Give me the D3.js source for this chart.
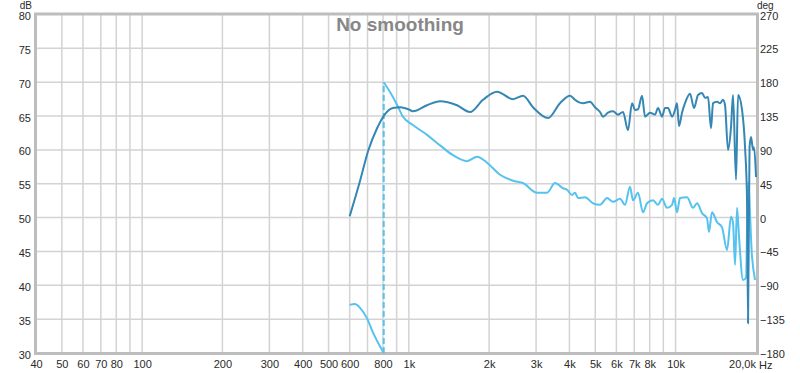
<!DOCTYPE html>
<html>
<head>
<meta charset="utf-8">
<script src="https://cdn.jsdelivr.net/npm/d3@7"></script>
<style>
html,body{margin:0;padding:0;background:#fff;}
svg{display:block;font-family:"Liberation Sans",Arial,sans-serif;}
</style>
</head>
<body>
<svg id="chart" width="800" height="373"></svg>
<script>
// ---- data ----
const titleText = "No smoothing";
const magFreq = [600, 656, 703, 760, 814, 872, 927, 1010, 1036, 1170, 1309, 1516, 1696, 1897, 2141, 2458, 2680, 2921, 3325, 3688, 4021, 4198, 4309, 4498, 4778, 4989, 5210, 5346, 5581, 5827, 6085, 6353, 6633, 6867, 7047, 7232, 7486, 7683, 8022, 8375, 8595, 8898, 9131, 9371, 9701, 9954, 10127, 10303, 10573, 10851, 11330, 11728, 12140, 12566, 12896, 13234, 13582, 13818, 14305, 14680, 15065, 15327, 15730, 16143, 16425, 16856, 17149, 17752, 18218, 18535, 18696, 18940, 19190, 19521, 19690, 20030];
const magDb = [50.2, 55.4, 59.8, 63.2, 65.3, 66.2, 66.3, 65.9, 65.7, 66.6, 67.2, 66.6, 65.6, 67.4, 68.6, 67.5, 68.0, 66.3, 64.7, 66.9, 68.0, 67.4, 67.1, 66.9, 67.1, 66.3, 65.6, 64.9, 65.5, 65.7, 65.2, 65.6, 62.9, 66.9, 65.9, 66.0, 68.0, 64.9, 65.5, 65.2, 66.2, 64.9, 66.2, 66.2, 64.9, 65.9, 66.9, 63.5, 65.5, 66.9, 68.3, 66.2, 68.1, 68.4, 67.7, 67.8, 63.2, 66.9, 67.1, 66.9, 67.4, 66.6, 60.0, 63.4, 68.1, 55.6, 68.1, 65.9, 60.4, 52.6, 34.4, 60.4, 61.9, 60.0, 60.4, 56.0];
const phaseFreq = [600, 628, 656, 697, 734, 805, 805, 850, 903, 951, 1036, 1170, 1309, 1464, 1652, 1802, 1964, 2197, 2458, 2680, 3024, 3297, 3533, 3786, 3919, 4091, 4198, 4309, 4577, 4904, 5210, 5535, 5827, 6191, 6463, 6749, 6926, 7232, 7551, 7816, 8233, 8595, 8898, 9290, 9701, 9870, 10127, 10393, 11043, 11630, 12038, 12566, 13120, 13348, 13697, 14305, 14936, 15595, 16143, 16425, 16711, 17002, 17299, 17906, 18376, 18696, 19352, 19861];
const phaseDeg = [-116, -115, -120, -134, -153, -180, 180, 167, 150, 134, 123, 110, 96, 83, 75, 81, 73, 57, 49, 46, 33, 33, 46, 39, 37, 30, 33, 26, 27, 19, 17, 26, 21, 25, 17, 41, 23, 33, 7, 19, 23, 17, 25, 13, 17, 26, 7, 26, 27, 13, 19, 6, -1, -19, 7, -6, -13, -43, 1, -7, -63, 13, -26, -83, -80, 47, -52, -83];
const xTickValues = [40, 50, 60, 70, 80, 100, 200, 300, 400, 500, 600, 800, 1000, 2000, 3000, 4000, 5000, 6000, 7000, 8000, 10000];
const xTickLabels = ["40", "50", "60", "70", "80", "100", "200", "300", "400", "500", "600", "800", "1k", "2k", "3k", "4k", "5k", "6k", "7k", "8k", "10k"];
const xGridValues = [50, 60, 70, 80, 90, 100, 200, 300, 400, 500, 600, 700, 800, 900, 1000, 2000, 3000, 4000, 5000, 6000, 7000, 8000, 9000, 10000];
const xEndLabel = "20,0k";
const xUnit = "Hz";
const dbTicks = [30, 35, 40, 45, 50, 55, 60, 65, 70, 75, 80];
const degTicks = [-180, -135, -90, -45, 0, 45, 90, 135, 180, 225, 270];
const leftUnit = "dB";
const rightUnit = "deg";

// ---- layout ----
const L = 36, R = 757, T = 14.5, B = 353;
const svg = d3.select("#chart");
const x = d3.scaleLog().domain([40, 20200]).range([L, R]);
const yDb = d3.scaleLinear().domain([30, 80]).range([B, T]);
const yDeg = d3.scaleLinear().domain([-180, 270]).range([B, T]);

const gridColor = "#d3d3d3";
const darkBlue = "#3487b4";
const lightBlue = "#55c2ef";

// grid
svg.append("g").selectAll("line").data(xGridValues).join("line")
  .attr("x1", d => x(d)).attr("x2", d => x(d))
  .attr("y1", T).attr("y2", B)
  .attr("stroke", gridColor).attr("stroke-width", 1.5);
svg.append("g").selectAll("line").data(dbTicks.slice(1, -1)).join("line")
  .attr("x1", L).attr("x2", R)
  .attr("y1", d => yDb(d)).attr("y2", d => yDb(d))
  .attr("stroke", gridColor).attr("stroke-width", 1.5);

// frame
svg.append("rect").attr("x", L - 0.5).attr("y", T - 0.5)
  .attr("width", R - L + 1).attr("height", B - T + 1)
  .attr("fill", "none").attr("stroke", "#bdbdbd").attr("stroke-width", 3);

// title
svg.append("text").attr("x", 400).attr("y", 31)
  .attr("text-anchor", "middle").attr("font-size", 19).attr("font-weight", "bold")
  .attr("fill", "#878787").text(titleText);

// axes
const labelColor = "#2a2a2a";
const xAxis = d3.axisBottom(x).tickValues(xTickValues)
  .tickFormat((d, i) => xTickLabels[i]).tickSize(0).tickPadding(7);
const gx = svg.append("g").attr("transform", `translate(0,${B})`).call(xAxis);
gx.select(".domain").remove();
gx.selectAll("text").attr("font-size", 11).attr("fill", labelColor)
  .attr("font-family", "Liberation Sans, Arial, sans-serif");

const yAxisL = d3.axisLeft(yDb).tickValues(dbTicks).tickFormat(d3.format("d")).tickSize(0).tickPadding(4);
const gl = svg.append("g").attr("transform", `translate(${L - 1},1.5)`).call(yAxisL);
gl.select(".domain").remove();
gl.selectAll("text").attr("font-size", 11).attr("fill", labelColor)
  .attr("font-family", "Liberation Sans, Arial, sans-serif");

const yAxisR = d3.axisRight(yDeg).tickValues(degTicks).tickFormat(d3.format("d")).tickSize(0).tickPadding(3);
const gr = svg.append("g").attr("transform", `translate(${R},1)`).call(yAxisR);
gr.select(".domain").remove();
gr.selectAll("text").attr("font-size", 11).attr("fill", labelColor)
  .attr("font-family", "Liberation Sans, Arial, sans-serif");

svg.append("text").attr("x", 756).attr("y", B + 15).attr("text-anchor", "end")
  .attr("font-size", 11).attr("fill", labelColor).text(xEndLabel);
svg.append("text").attr("x", 759).attr("y", B + 16)
  .attr("font-size", 11).attr("fill", labelColor).text(xUnit);
svg.append("text").attr("x", 32).attr("y", 9).attr("text-anchor", "end")
  .attr("font-size", 10).attr("fill", labelColor).text(leftUnit);
svg.append("text").attr("x", 757).attr("y", 9)
  .attr("font-size", 10).attr("fill", labelColor).text(rightUnit);

// curves
svg.append("clipPath").attr("id", "plotclip")
  .append("rect").attr("x", L).attr("y", T - 1).attr("width", R - L).attr("height", B - T + 2);
const plot = svg.append("g").attr("clip-path", "url(#plotclip)");

// phase: split at wraps
const phasePts = phaseFreq.map((f, i) => [f, phaseDeg[i]]);
const segments = [[phasePts[0]]];
const wraps = [];
for (let i = 1; i < phasePts.length; i++) {
  if (Math.abs(phasePts[i][1] - phasePts[i - 1][1]) > 180) {
    wraps.push([phasePts[i - 1], phasePts[i]]);
    segments.push([phasePts[i]]);
  } else {
    segments[segments.length - 1].push(phasePts[i]);
  }
}
const phaseLine = d3.line().x(d => x(d[0])).y(d => yDeg(d[1])).curve(d3.curveMonotoneX);
plot.selectAll(".wrap").data(wraps).join("line").attr("class", "wrap")
  .attr("x1", d => x(d[0][0])).attr("x2", d => x(d[1][0]))
  .attr("y1", d => yDeg(d[0][1])).attr("y2", d => yDeg(d[1][1]))
  .attr("stroke", lightBlue).attr("stroke-width", 2).attr("stroke-dasharray", "6,3");
plot.selectAll(".phase").data(segments).join("path").attr("class", "phase")
  .attr("d", phaseLine).attr("fill", "none")
  .attr("stroke", lightBlue).attr("stroke-width", 2).attr("stroke-linejoin", "round");

const magPts = magFreq.map((f, i) => [f, magDb[i]]);
const magLine = d3.line().x(d => x(d[0])).y(d => yDb(d[1])).curve(d3.curveMonotoneX);
plot.append("path").datum(magPts).attr("d", magLine).attr("fill", "none")
  .attr("stroke", darkBlue).attr("stroke-width", 2).attr("stroke-linejoin", "round");
</script>
</body>
</html>
